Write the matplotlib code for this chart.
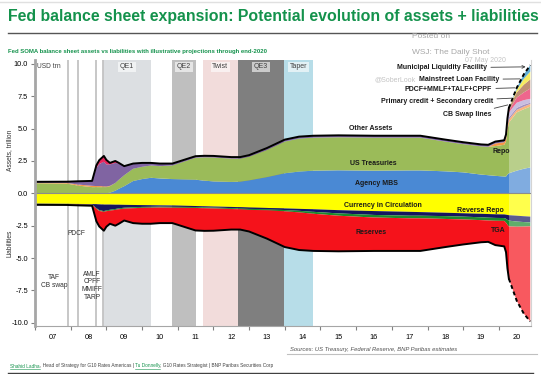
import matplotlib
matplotlib.use('Agg')
import matplotlib.pyplot as plt
from matplotlib import font_manager as fm
import numpy as np

# ---- data (USD trn) ----
t = [2007.0, 2007.9, 2008.2, 2008.6, 2008.72, 2008.8, 2008.93, 2009.0, 2009.1, 2009.25,
     2009.35, 2009.5, 2009.75, 2010.0, 2010.25, 2010.5, 2010.85, 2011.5, 2011.75, 2012.0,
     2012.5, 2012.75, 2013.0, 2013.5, 2014.0, 2014.4, 2014.8, 2015.5, 2016.5, 2017.5,
     2017.8, 2018.5, 2019.0, 2019.5, 2019.7, 2019.9, 2020.15, 2020.2, 2020.24, 2020.28,
     2020.5, 2020.7, 2020.88]

# assets
mbs = [0, 0, 0, 0, 0, 0, 0, 0, 0.05, 0.2,
       0.35, 0.55, 0.95, 1.1, 1.2, 1.15, 1.1, 1.05, 0.98, 0.92,
       0.88, 0.9, 1.0, 1.25, 1.55, 1.68, 1.75, 1.78, 1.75, 1.77,
       1.77, 1.7, 1.62, 1.45, 1.4, 1.35, 1.3, 1.3, 1.45, 1.55,
       1.75, 1.9, 2.0]
treasuries = [0.78, 0.75, 0.6, 0.48, 0.48, 0.48, 0.48, 0.48, 0.5, 0.6,
              0.7, 0.85, 0.95, 0.95, 0.95, 0.95, 1.05, 1.7, 1.8, 1.85,
              1.8, 1.78, 1.83, 2.1, 2.45, 2.55, 2.55, 2.55, 2.55, 2.53,
              2.53, 2.3, 2.18, 2.18, 2.2, 2.3, 2.45, 2.7, 3.4, 3.9,
              4.5, 4.6, 4.7]
repo = [0.03, 0.05, 0.08, 0.1, 0.08, 0.08, 0.06, 0.05, 0.03, 0,
        0, 0, 0, 0, 0, 0, 0, 0, 0, 0,
        0, 0, 0, 0, 0, 0, 0, 0, 0, 0,
        0, 0, 0, 0, 0, 0.2, 0.2, 0.3, 0.3, 0.25,
        0.2, 0.2, 0.2]
other = [0.08, 0.1, 0.25, 0.38, 1.4, 1.7, 1.9, 1.7, 1.65, 1.55,
         1.25, 0.7, 0.4, 0.3, 0.2, 0.2, 0.15, 0.12, 0.12, 0.12,
         0.12, 0.12, 0.12, 0.15, 0.15, 0.15, 0.15, 0.15, 0.15, 0.15,
         0.15, 0.15, 0.15, 0.15, 0.15, 0.15, 0.15, 0.15, 0.15, 0.15,
         0.15, 0.15, 0.1]
cb_swap = [0] * 37 + [0.1, 0.3, 0.4, 0.4, 0.35, 0.3]
primary = [0, 0, 0, 0, 0.2, 0.3, 0.45, 0.35, 0.12, 0.15,
           0.05] + [0] * 27 + [0.1, 0.15, 0.4, 0.6, 0.8]
pdcf = [0] * 38 + [0.1, 0.2, 0.4, 0.6, 0.7]
mainstreet = [0] * 40 + [0.2, 0.45, 0.6]
municipal = [0] * 40 + [0.15, 0.35, 0.5]

# liabilities (magnitudes)
currency = [0.8, 0.81, 0.82, 0.83, 0.84, 0.85, 0.87, 0.87, 0.87, 0.88,
            0.88, 0.89, 0.9, 0.91, 0.92, 0.93, 0.94, 0.98, 1.0, 1.02,
            1.05, 1.07, 1.1, 1.13, 1.17, 1.2, 1.23, 1.3, 1.37, 1.43,
            1.45, 1.5, 1.54, 1.58, 1.6, 1.62, 1.63, 1.65, 1.67, 1.69,
            1.73, 1.77, 1.8]
rev_repo = [0.03, 0.03, 0.04, 0.04, 0.3, 0.45, 0.5, 0.45, 0.4, 0.33,
            0.28, 0.22, 0.18, 0.14, 0.12, 0.1, 0.1, 0.08, 0.08, 0.08,
            0.09, 0.09, 0.1, 0.1, 0.12, 0.15, 0.2, 0.25, 0.3, 0.3,
            0.28, 0.26, 0.26, 0.27, 0.28, 0.28, 0.28, 0.32, 0.38, 0.42,
            0.45, 0.45, 0.45]
tga = [0.02, 0.02, 0.02, 0.02, 0.05, 0.06, 0.06, 0.06, 0.07, 0.07,
       0.07, 0.07, 0.07, 0.07, 0.07, 0.07, 0.07, 0.07, 0.07, 0.07,
       0.07, 0.07, 0.08, 0.08, 0.1, 0.12, 0.15, 0.18, 0.2, 0.2,
       0.2, 0.22, 0.22, 0.22, 0.22, 0.22, 0.22, 0.3, 0.38, 0.45,
       0.4, 0.35, 0.3]
reserves = [0.04, 0.04, 0.05, 0.07, 0.97, 1.2, 1.46, 1.2, 1.01, 1.22,
            1.12, 0.92, 1.15, 1.23, 1.24, 1.2, 1.19, 1.74, 1.75, 1.72,
            1.59, 1.57, 1.67, 2.19, 2.76, 2.91, 2.87, 2.75, 2.58, 2.52,
            2.52, 2.17, 1.93, 1.71, 1.65, 1.88, 1.97, 2.28, 3.37, 4.04,
            5.72, 6.73, 7.35]

forecast_start = 2020.28

lines = [2007.92, 2008.2, 2008.71, 2008.9]
bands = [('QE1', 2008.9, 2010.25, '#dcdfe2'),
         ('QE2', 2010.84, 2011.5, '#bfbfbf'),
         ('Twist', 2011.7, 2012.69, '#f2dcdb'),
         ('QE3', 2012.69, 2013.97, '#7f7f7f'),
         ('Taper', 2013.97, 2014.8, '#b7dde8')]
years = list(range(2007, 2021))
year_labels = ['07', '08', '09', '10', '11', '12', '13', '14', '15', '16', '17', '18', '19', '20']


def pick(names):
    for n in names:
        try:
            fm.findfont(n, fallback_to_default=False)
            return n
        except Exception:
            pass
    return 'DejaVu Sans'


SANS = pick(['Liberation Sans', 'Arial', 'DejaVu Sans'])
NARROW = pick(['Liberation Sans Narrow', 'Arial Narrow', SANS])
plt.rcParams['font.family'] = SANS

GREEN = '#14924c'

fig = plt.figure(figsize=(5.41, 3.74), dpi=100)
W, H = 541.0, 374.0
ax = fig.add_axes([35 / W, 1 - 326 / H, (531 - 35) / W, (326 - 60) / H])
ax.set_xlim(2007.0, 2020.9)
ax.set_ylim(-10.25, 10.3)

for x in lines:
    ax.axvline(x, color='#c3c3c3', lw=1.3, zorder=1)
for name, a, b, c in bands:
    ax.axvspan(a, b, color=c, lw=0, zorder=0.5)
    ax.text((a + b) / 2, 9.77, name, ha='center', va='center', fontsize=5, color='#404040',
            bbox=dict(boxstyle='square,pad=0.25', fc='white', ec='none', alpha=0.6), zorder=2)

t_arr = np.array(t)
asset_series = [mbs, treasuries, repo, other, cb_swap, primary, pdcf, mainstreet, municipal]
asset_colors = ['#4a89d4', '#9bbb59', '#f79646', '#8064a2', '#b3a2d3', '#e8245c',
                '#a5613a', '#f4e31c', '#1f8cc4']
ax.stackplot(t_arr, *[np.array(s) for s in asset_series], colors=asset_colors, lw=0, zorder=3)

liab_series = [currency, rev_repo, tga, reserves]
liab_colors = ['#ffff00', '#15155e', '#1b8a2c', '#f5121b']
ax.stackplot(t_arr, *[-np.array(s) for s in liab_series], colors=liab_colors, lw=0, zorder=3)

# forecast shading
ax.axvspan(forecast_start, 2020.9, color='white', alpha=0.3, lw=0, zorder=4)

total_a = np.sum([np.array(s) for s in asset_series], axis=0)
total_l = -np.sum([np.array(s) for s in liab_series], axis=0)
k = t.index(forecast_start)
for tot in (total_a, total_l):
    ax.plot(t_arr[:k + 1], tot[:k + 1], color='black', lw=1.4, zorder=5)
    ax.plot(t_arr[k:], tot[k:], color='black', lw=1.4, ls=(0, (2, 1.5)), zorder=5)
ax.axhline(0, color='#8c8c8c', lw=0.8, zorder=4.5)

# axes styling
ax.spines['top'].set_visible(False)
ax.spines['left'].set_color('#a6a6a6')
ax.spines['left'].set_linewidth(2)
ax.spines['bottom'].set_color('#a6a6a6')
ax.spines['right'].set_color('#d4d4d4')
ax.spines['left'].set_zorder(6)
ax.set_yticks([-10, -7.5, -5, -2.5, 0, 2.5, 5, 7.5, 10])
ax.set_yticklabels(['%.1f' % v for v in [-10, -7.5, -5, -2.5, 0, 2.5, 5, 7.5, 10]])
ax.set_xticks(years)
ax.set_xticklabels([])
ax.set_xticks([y + 0.5 for y in years], minor=True)
ax.set_xticklabels(year_labels, minor=True)
ax.tick_params(axis='x', which='major', length=3, color='#808080')
ax.tick_params(axis='x', which='minor', length=0, pad=6, labelsize=5.3)
ax.tick_params(axis='y', length=3, color='#808080', labelsize=5.3, pad=2)

# in-plot labels
lab = dict(fontsize=5, fontweight='bold', color='#1a1a1a', zorder=7)
ax.text(2016.41, 4.98, 'Other Assets', ha='center', va='center', **lab)
ax.text(2016.47, 2.28, 'US Treasuries', ha='center', va='center', **lab)
ax.text(2016.58, 0.73, 'Agency MBS', ha='center', va='center', **lab)
ax.text(2016.75, -0.97, 'Currency in Circulation', ha='center', va='center', **lab)
ax.text(2019.47, -1.35, 'Reverse Repo', ha='center', va='center', **lab)
ax.text(2016.41, -3.05, 'Reserves', ha='center', va='center', **lab)
ax.text(2019.97, -2.9, 'TGA', ha='center', va='center', **lab)
ax.text(2020.08, 3.2, 'Repo', ha='center', va='center', **lab)
ax.text(2007.06, 9.77, 'USD trn', ha='left', va='center', fontsize=4.8, color='#404040', zorder=7)

# watermark (kept clear of the call-out texts)
fig.text(506 / W, 1 - 60 / H, '07 May 2020', ha='right', va='center', fontsize=5, color='#c4c4c4')
fig.text(416 / W, 1 - 80 / H, '@SoberLook', ha='right', va='center', fontsize=5, color='#c4c4c4')

callouts = [('Municipal Liquidity Facility', (2019.66, 9.69), (2020.75, 9.77), '->'),
            ('Mainstreet Loan Facility', (2020.0, 8.79), (2020.59, 8.84), '-'),
            ('PDCF+MMLF+TALF+CPPF', (2019.8, 8.0), (2020.45, 8.15), '-'),
            ('Primary credit + Secondary credit', (2019.83, 7.09), (2020.36, 7.35), '-'),
            ('CB Swap lines', (2019.8, 6.06), (2020.25, 6.83), '-')]
for txt, xy_t, xy_a, st in callouts:
    ax.annotate(txt, xy=xy_a, xytext=xy_t, ha='right', va='center', fontsize=5,
                fontweight='bold', color='#1a1a1a', zorder=7,
                arrowprops=dict(arrowstyle=st, color='#404040', lw=0.6, shrinkA=1, shrinkB=0))

small = dict(fontsize=4.8, color='#303030', ha='center', va='center', linespacing=1.15, zorder=7)
ax.text(2008.15, -3.13, 'PDCF', **small)
ax.text(2007.53, -6.83, 'TAF\nCB swap', **small)
ax.text(2008.6, -7.14, 'AMLF\nCPFF\nMMIFF\nTARP', **small)

fig.text(10 / W, 1 - 150 / H, 'Assets, trillion', rotation=90, ha='center', va='center',
         fontsize=4.8, color='#303030')
fig.text(10 / W, 1 - 243 / H, 'Liabilities', rotation=90, ha='center', va='center',
         fontsize=4.8, color='#303030')

# header / footer
title = fig.text(8 / W, 1 - 16 / H, 'Fed balance sheet expansion: Potential evolution of assets + liabilities',
                 ha='left', va='center', fontsize=12, fontweight='bold', color=GREEN, family=NARROW)
sub = fig.text(8 / W, 1 - 52 / H, 'Fed SOMA balance sheet assets vs liabilities with illustrative projections through end-2020',
               ha='left', va='center', fontsize=5, fontweight='bold', color=GREEN, family=NARROW)
fig.text(412 / W, 1 - 36 / H, 'Posted on', ha='left', va='center', fontsize=6, color='#a8a8a8')
fig.text(412 / W, 1 - 52 / H, 'WSJ: The Daily Shot', ha='left', va='center', fontsize=6, color='#a8a8a8')
fig.add_artist(plt.Line2D([8 / W, 537 / W], [1 - 33 / H, 1 - 33 / H], color='#555555', lw=1))
fig.add_artist(plt.Line2D([0, 1], [1 - 1.5 / H, 1 - 1.5 / H], color='#e0e0e0', lw=1))

fig.text(290 / W, 1 - 349 / H, 'Sources: US Treasury, Federal Reserve, BNP Paribas estimates',
         ha='left', va='center', fontsize=4.2, style='italic', color='#505050')
fig.add_artist(plt.Line2D([287 / W, 537 / W], [1 - 354 / H, 1 - 354 / H], color='#c0c0c0', lw=0.8))
fig.add_artist(plt.Line2D([8 / W, 533 / W], [1 - 372.5 / H, 1 - 372.5 / H], color='#404040', lw=1))

fig.canvas.draw()
r = fig.canvas.get_renderer()

# credits line: names in green, underlined
credit_parts = [('Shahid Ladha', True), (', Head of Strategy for G10 Rates Americas | ', False),
                ('Tu Donnelly', True), (', G10 Rates Strategist | BNP Paribas Securities Corp', False)]
xpos = 10.0
for txt, is_name in credit_parts:
    obj = fig.text(xpos / W, 1 - 366 / H, txt, ha='left', va='center', fontsize=3.4,
                   color=GREEN if is_name else '#404040')
    w = obj.get_window_extent(r).width
    if is_name:
        fig.add_artist(plt.Line2D([xpos / W, (xpos + w) / W], [1 - 368.5 / H, 1 - 368.5 / H],
                                  color=GREEN, lw=0.4))
    xpos += w

# fit header widths to the reference
for obj, target in ((title, 529), (sub, 264)):
    w = obj.get_window_extent(r).width
    obj.set_fontsize(obj.get_fontsize() * target / w)

fig.savefig('out.png', dpi=100)
